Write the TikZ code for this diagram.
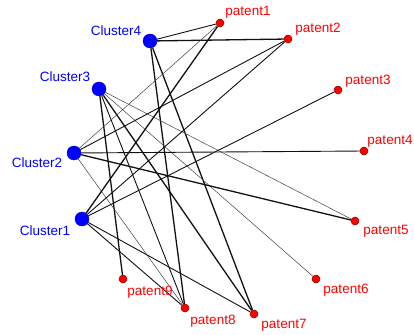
\documentclass[tikz,border=0pt]{standalone}
\usepackage{fontspec}
\setmainfont{Liberation Sans}
\usetikzlibrary{backgrounds}
\definecolor{clblue}{HTML}{0000FF}
\definecolor{ptred}{HTML}{FF0000}
\definecolor{ptedge}{HTML}{8B0000}
\definecolor{ink}{HTML}{111111}
\tikzset{
  % ---- vertices --------------------------------------------------
  cnode/.style  = {circle, fill=clblue, draw=clblue!70!black, line width=.4pt,
                   inner sep=0pt, minimum size=14pt},
  pnode/.style  = {circle, fill=ptred, draw=ptedge, line width=.5pt,
                   inner sep=0pt, minimum size=8pt},
  % ---- labels ----------------------------------------------------
  clab/.style   = {text=clblue, inner sep=0pt,
                   font=\fontsize{13.5}{15}\selectfont},
  plab/.style   = {text=ptred, inner sep=0pt,
                   font=\fontsize{13.5}{15}\selectfont},
  % ---- ties ------------------------------------------------------
  ethick/.style = {draw=ink, line width=1.3pt},
  emed/.style   = {draw=ink, line width=.9pt},
  ethin/.style  = {draw=ink!80, line width=.5pt},
}

\begin{document}
\begin{tikzpicture}[x=1pt,y=-1pt]
  \useasboundingbox (0,0) rectangle (414,334);
  % clusters
  \node[cnode] (c4) at (150,41) {};
  \node[cnode] (c3) at (99,89) {};
  \node[cnode] (c2) at (74,153) {};
  \node[cnode] (c1) at (82,219) {};
  \node[clab] (l4) at (116,31) {Cluster4};
  \node[clab] (l3) at (65,77) {Cluster3};
  \node[clab] (l2) at (37,163) {Cluster2};
  \node[clab] (l1) at (45,231) {Cluster1};
  % patents
  \node[pnode] (p1) at (220,23) {};
  \node[pnode] (p2) at (288,39) {};
  \node[pnode] (p3) at (338,90) {};
  \node[pnode] (p4) at (364,151) {};
  \node[pnode] (p5) at (355,221) {};
  \node[pnode] (p6) at (316,279) {};
  \node[pnode] (p7) at (254,314) {};
  \node[pnode] (p8) at (185,308) {};
  \node[pnode] (p9) at (123,279) {};
  \node[plab] (t1) at (248,12) {patent1};
  \node[plab] (t2) at (318,29) {patent2};
  \node[plab] (t3) at (368,81) {patent3};
  \node[plab] (t4) at (390,141) {patent4};
  \node[plab] (t5) at (386,231) {patent5};
  \node[plab] (t6) at (346,290) {patent6};
  \node[plab] (t7) at (284,325) {patent7};
  \node[plab] (t8) at (213,321) {patent8};
  \node[plab] (t9) at (150,292) {patent9};
  % ties
  \begin{scope}[on background layer]
    \foreach \a/\b/\w in {c4/p1/emed, c4/p2/ethick, c4/p7/ethick, c4/p8/ethick,
                          c3/p5/ethin, c3/p6/ethin, c3/p7/ethick, c3/p8/emed, c3/p9/ethick,
                          c2/p1/ethin, c2/p2/emed, c2/p4/emed, c2/p5/ethick, c2/p8/ethin,
                          c1/p1/ethick, c1/p2/emed, c1/p3/emed, c1/p7/emed, c1/p8/emed}
      \draw[\w] (\a) -- (\b);
  \end{scope}
\end{tikzpicture}
\end{document}
